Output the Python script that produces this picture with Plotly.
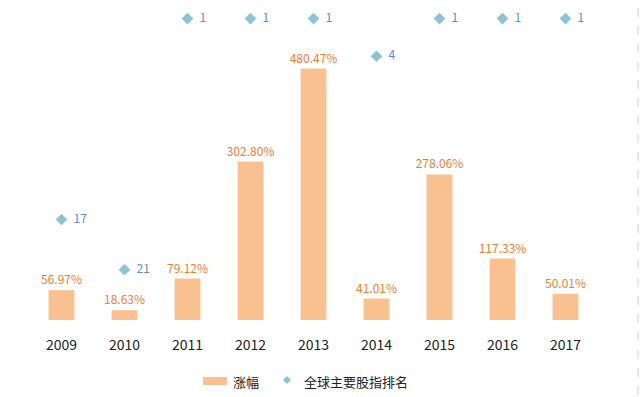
import plotly.graph_objects as go

years = ["2009", "2010", "2011", "2012", "2013", "2014", "2015", "2016", "2017"]
gains = [56.97, 18.63, 79.12, 302.80, 480.47, 41.01, 278.06, 117.33, 50.01]
ranks = [17, 21, 1, 1, 1, 4, 1, 1, 1]
legend_names = ["涨幅", "全球主要股指排名"]

font_family = "Noto Sans CJK SC, Noto Sans, sans-serif"
BAR_COLOR = "#F9C18F"
DIAMOND_COLOR = "#8EC3D5"

# plot area in pixels: x 30..597, y 6..320
L, R, T, B = 30, 43, 6, 77
W, H = 640, 397
pw, ph = W - L - R, H - T - B


def px(x):
    return (x - L) / pw


def py(y):
    return (H - B - y) / ph


fig = go.Figure()
fig.add_trace(go.Bar(
    x=years, y=gains, name=legend_names[0],
    marker=dict(color=BAR_COLOR, line=dict(width=0)),
    width=0.41,
    text=[f"{v:.2f}%" for v in gains],
    textposition="outside",
    constraintext="none",
    textfont=dict(color="#ED7D31", size=12, family=font_family),
    cliponaxis=False,
    showlegend=False,
))
fig.add_trace(go.Scatter(
    x=years, y=ranks, name=legend_names[1], yaxis="y2",
    mode="markers+text",
    marker=dict(symbol="diamond", size=9, color=DIAMOND_COLOR),
    text=["  " + str(r) for r in ranks],
    textposition="middle right",
    textfont=dict(color="#5B8BD6", size=12, family=font_family),
    cliponaxis=False,
    showlegend=False,
))

# custom legend
ly = 381
fig.add_shape(type="rect", xref="paper", yref="paper",
              x0=px(203), x1=px(227), y0=py(385), y1=py(377),
              fillcolor=BAR_COLOR, line=dict(width=0))
fig.add_annotation(xref="paper", yref="paper", x=px(231), y=py(ly),
                   text=legend_names[0], showarrow=False, xanchor="left", yanchor="middle",
                   font=dict(size=13, color="#222222", family=font_family))
fig.add_shape(type="path", xref="paper", yref="paper",
              path=f"M {px(287)} {py(376)} L {px(291)} {py(380)} L {px(287)} {py(384)} L {px(283)} {py(380)} Z",
              fillcolor=DIAMOND_COLOR, line=dict(width=0))
fig.add_annotation(xref="paper", yref="paper", x=px(302), y=py(ly),
                   text=legend_names[1], showarrow=False, xanchor="left", yanchor="middle",
                   font=dict(size=13, color="#222222", family=font_family))

fig.add_shape(type="line", xref="paper", yref="paper",
              x0=px(638), x1=px(638), y0=py(395), y1=py(2),
              line=dict(color="#D0D0D8", width=1, dash="dash"))

fig.update_layout(
    width=W, height=H,
    margin=dict(l=L, r=R, t=T, b=B, autoexpand=False),
    paper_bgcolor="white", plot_bgcolor="white",
    font=dict(family=font_family, color="#222222", size=13),
    showlegend=False,
    hovermode=False,
    bargap=0.59,
    xaxis=dict(range=[-0.5, 8.5], showgrid=False, showline=False, zeroline=False,
               ticks="outside", ticklen=12, tickcolor="rgba(0,0,0,0)",
               tickfont=dict(size=14, color="#222222")),
    yaxis=dict(range=[0, 600], visible=False, showgrid=False, zeroline=False),
    yaxis2=dict(range=[25, 0], overlaying="y", side="right", visible=False,
                showgrid=False, zeroline=False),
)

fig.write_html("out.html",
               config={"displayModeBar": False, "staticPlot": True},
               post_script="document.body.style.margin='0';document.body.style.overflow='hidden';")
